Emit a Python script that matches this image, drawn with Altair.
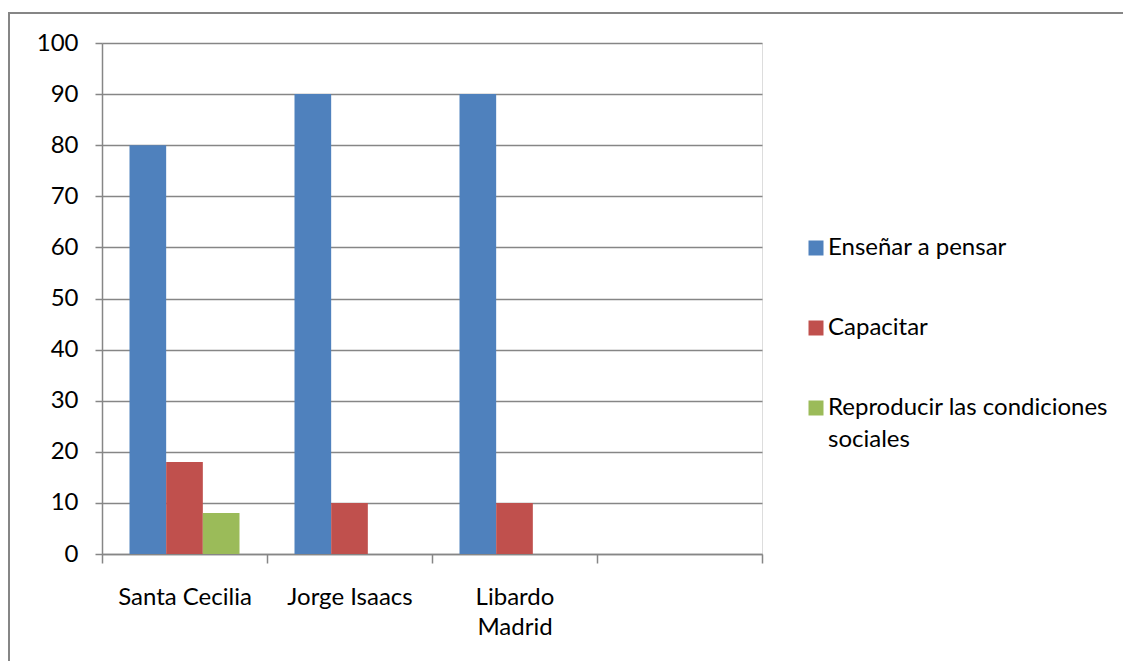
import altair as alt
import pandas as pd

categories = ["Santa Cecilia", "Jorge Isaacs", "Libardo Madrid", " "]
series = ["Enseñar a pensar", "Capacitar", "Reproducir las condiciones sociales"]
ensenar = [80, 90, 90]
capacitar = [18, 10, 10]
reproducir = [8, 0, 0]
colors = ["#4F81BD", "#C0504D", "#9BBB59"]
y_ticks = [0, 10, 20, 30, 40, 50, 60, 70, 80, 90, 100]

rows = []
for vals, s in zip([ensenar, capacitar, reproducir], series):
    for c, v in zip(categories[:3], vals):
        rows.append({"categoria": c, "serie": s, "valor": v})
df = pd.DataFrame(rows)

FONT = "Lato"
GRAY = "#868686"
FS = 24

bars = alt.Chart(df).mark_bar().encode(
    x=alt.X("categoria:N", sort=categories,
            scale=alt.Scale(domain=categories, paddingInner=0, paddingOuter=0),
            axis=alt.Axis(title=None, labelAngle=0, tickBand="extent", tickSize=9,
                          tickColor=GRAY, tickWidth=1.5, domainColor=GRAY, domainWidth=1.5,
                          labelFont=FONT, labelFontSize=FS, labelColor="black",
                          labelPadding=22, labelLineHeight=30, grid=False,
                          labelExpr="datum.value == 'Libardo Madrid' ? ['Libardo', 'Madrid'] : datum.value")),
    xOffset=alt.XOffset("serie:N", sort=series,
                        scale=alt.Scale(domain=series, paddingInner=0, paddingOuter=0.75)),
    y=alt.Y("valor:Q", scale=alt.Scale(domain=[0, 100], nice=False),
            axis=alt.Axis(title=None, values=y_ticks, tickSize=7, tickColor=GRAY, tickWidth=1.5,
                          domainColor=GRAY, domainWidth=1.5, gridColor=GRAY, gridWidth=1.5,
                          labelFont=FONT, labelFontSize=FS, labelColor="black", labelPadding=17)),
    color=alt.Color("serie:N", sort=series,
                    scale=alt.Scale(domain=series, range=colors),
                    legend=alt.Legend(title=None, orient="none", legendX=702, legendY=193,
                                      symbolType="square", symbolSize=225, symbolStrokeWidth=0,
                                      labelFont=FONT, labelFontSize=FS, labelColor="black",
                                      labelOffset=0, rowPadding=56, labelLimit=400,
                                      labelExpr="datum.label == 'Reproducir las condiciones sociales' ? ['Reproducir las condiciones', 'sociales'] : datum.label")),
)

top_border = alt.Chart(df).mark_rule(color=GRAY, strokeWidth=2).encode(
    x=alt.value(-94), x2=alt.value(1021), y=alt.value(-30))
left_border = alt.Chart(df).mark_rule(color=GRAY, strokeWidth=2).encode(
    x=alt.value(-93), y=alt.value(-30), y2=alt.value(618))

chart = alt.layer(bars, top_border, left_border).properties(
    width=660, height=511,
    padding={"left": 94, "top": 35, "right": 361, "bottom": 107},
    autosize=alt.AutoSizeParams(type="none"),
).configure_view(stroke=None).configure(
    background="white",
    style={"guide-label": {"lineHeight": 32}},
)

chart.save("out.html", embed_options={"renderer": "svg", "actions": False})
